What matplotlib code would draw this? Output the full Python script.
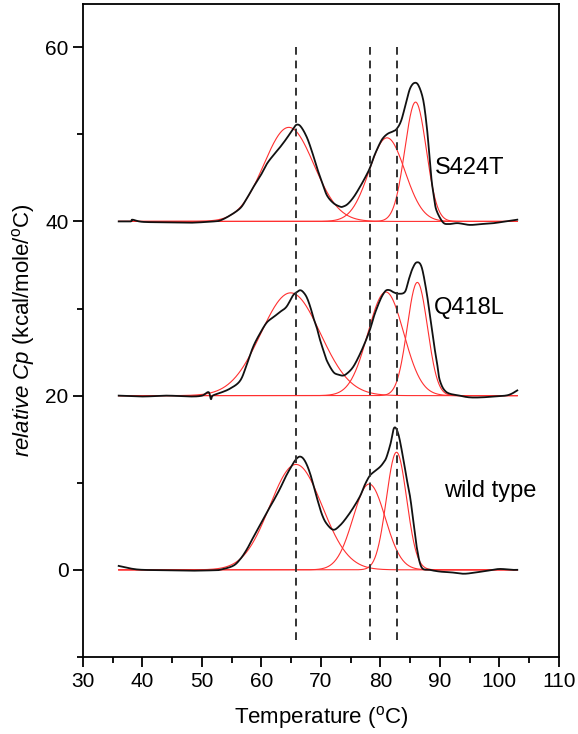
import numpy as np
import matplotlib
matplotlib.use("Agg")
import matplotlib.pyplot as plt
from matplotlib.ticker import MultipleLocator

plt.rcParams['font.family'] = ['Liberation Sans', 'DejaVu Sans']
plt.rcParams['mathtext.fontset'] = 'custom'
plt.rcParams['mathtext.rm'] = 'Liberation Sans'
plt.rcParams['mathtext.it'] = 'Liberation Sans:italic'

# ==== データ ====
baselines = [0, 20, 40]
names = ["wild type", "Q418L", "S424T"]
label_pos = [(98.4, 9.1), (95.0, 30.1), (95.0, 46.1)]

# 測定曲線 (T [°C], Cp)
t_wt = [36, 38, 40, 44, 48, 52, 53, 55.2, 56.4, 57.5, 58.6, 59.8, 60.9, 62, 63.1, 64, 64.8,
        65.7, 66.5, 67.3, 68.2, 69.3, 70.2, 71.0, 72.1, 73.2, 74.3, 75.5, 76.6, 77.4, 78.2,
        79.0, 79.9, 80.5, 81.0, 81.7, 82.3, 83.0, 83.8, 84.4, 85.0, 85.6, 86.1, 86.9, 88.3,
        90, 92, 94, 96, 98, 100, 102, 103]
cp_wt = [0.45, 0.15, 0.0, -0.05, -0.1, -0.05, 0.0, 0.45, 1.2, 2.3, 3.7, 5.2, 6.6, 7.9, 9.3,
         10.6, 11.6, 12.6, 13.0, 12.5, 11.0, 8.3, 6.3, 5.25, 4.6, 5.1, 6.0, 7.2, 8.5, 9.8, 10.8,
         11.3, 11.8, 12.3, 12.9, 14.5, 16.3, 15.6, 12.9, 10.5, 8.3, 5.2, 2.6, 0.3, 0.0,
         -0.2, -0.3, -0.45, -0.3, -0.1, 0.1, 0.0, 0.0]

t_q = [36, 40, 44, 48, 50, 51.1, 51.5, 51.8, 53, 54.7, 56.4, 57.5, 58.6, 59.8, 60.9, 62,
       63.1, 64.2, 65.3, 66.0, 66.5, 67.0, 67.6, 68.2, 68.7, 69.3, 69.8, 70.4, 71.0, 72.1,
       73.0, 73.7, 74.3, 75.2, 76.0, 77.1, 78.2, 79.0, 79.9, 80.5, 81.0, 81.6, 82.1, 83.0,
       84.1, 84.7, 85.4, 86.1, 86.9, 87.7, 88.3, 88.9, 89.5, 90.0, 91.1, 93.3, 95, 97, 99,
       101, 102, 103]
cp_q = [20.0, 19.9, 20.0, 19.9, 20.0, 20.4, 19.6, 20.0, 20.3, 20.8, 21.7, 23.5, 25.6, 27.2,
        28.4, 29.0, 29.6, 30.2, 31.5, 31.9, 32.1, 31.9, 31.3, 30.2, 29.0, 27.8, 26.5, 25.2,
        24.0, 22.7, 22.4, 22.3, 22.5, 23.1, 24.0, 25.6, 27.5, 29.3, 30.9, 31.7, 32.1, 32.1,
        31.9, 31.7, 31.9, 33.2, 34.6, 35.3, 34.8, 32.1, 29.3, 26.3, 23.8, 21.7, 20.4, 20.0,
        19.8, 19.8, 19.9, 20.0, 20.2, 20.6]

t_s = [36, 38, 38.3, 40, 44, 48, 52, 53, 54.5, 56.4, 57.5, 58.6, 59.8, 60.9, 62, 63.1, 64.2,
       65.3, 65.9, 66.6, 67.6, 68.5, 69.3, 70.2, 71.0, 72.1, 73.2, 73.7, 74.5, 75.5, 76.5,
       77.4, 78.2, 79.0, 80.0, 80.6, 81.3, 82.0, 82.7, 83.5, 84.4, 85.0, 85.7, 86.4, 87.2,
       87.8, 88.2, 88.6, 89.0, 89.4, 90.5, 91.5, 93, 95, 97, 99, 101, 103]
cp_s = [40.0, 40.0, 40.2, 39.95, 39.9, 39.85, 40.0, 40.1, 40.6, 41.5, 42.6, 43.9, 45.2, 46.6,
        47.6, 48.5, 49.5, 50.6, 51.1, 50.9, 49.7, 48.0, 46.2, 44.5, 43.0, 42.1, 41.7, 41.7,
        42.0, 42.8, 43.9, 45.0, 46.1, 47.6, 49.1, 49.7, 50.1, 50.3, 50.6, 51.6, 53.9, 55.3,
        55.9, 55.6, 53.9, 50.8, 47.8, 44.7, 42.8, 41.3, 39.9, 39.7, 39.8, 39.6, 39.7, 39.8,
        40.0, 40.2]

t_data = [t_wt, t_q, t_s]
cp_data = [cp_wt, cp_q, cp_s]

# フィット成分 (中心 Tm, 高さ, 幅)
tm_fit = [[65.8, 78.1, 82.7], [64.9, 80.9, 86.2], [64.6, 81.1, 85.9]]
h_fit = [[12.1, 9.85, 13.5], [11.8, 11.9, 13.0], [10.8, 9.6, 13.7]]
w_fit = [[4.4, 2.7, 1.7], [5.0, 3.0, 1.7], [4.2, 3.0, 1.8]]

# 破線（各転移温度）
tm_lines = [65.8, 78.2, 82.7]


def smooth_path(x, y, n=12):
    """読み取り点を Catmull-Rom で滑らかにつなぐ"""
    x = np.asarray(x, float)
    y = np.asarray(y, float)
    px = np.concatenate([[2 * x[0] - x[1]], x, [2 * x[-1] - x[-2]]])
    py = np.concatenate([[2 * y[0] - y[1]], y, [2 * y[-1] - y[-2]]])
    s = np.linspace(0, 1, n, endpoint=False)
    xs, ys = [], []
    for k in range(1, len(px) - 2):
        for arr, out in ((px, xs), (py, ys)):
            p0, p1, p2, p3 = arr[k - 1:k + 3]
            out.extend(0.5 * (2 * p1 + (-p0 + p2) * s
                              + (2 * p0 - 5 * p1 + 4 * p2 - p3) * s ** 2
                              + (-p0 + 3 * p1 - 3 * p2 + p3) * s ** 3))
    xs.append(x[-1])
    ys.append(y[-1])
    return xs, ys


# ==== 描画 ====
fig = plt.figure(figsize=(5.78, 7.34), dpi=100)
ax = fig.add_axes([0.1436, 0.105, 0.967 - 0.1436, 0.995 - 0.105])

tt = np.linspace(36, 103, 600)
for i in range(3):
    for tm, h, w in zip(tm_fit[i], h_fit[i], w_fit[i]):
        ax.plot(tt, baselines[i] + h * np.exp(-0.5 * ((tt - tm) / w) ** 2),
                color="#ff3030", linewidth=0.8, zorder=2)
    xs, ys = smooth_path(t_data[i], cp_data[i])
    ax.plot(xs, ys, color="#111111", linewidth=1.3, zorder=3)
    ax.text(label_pos[i][0], label_pos[i][1], names[i], fontsize=17,
            ha="center", va="center")

for x in tm_lines:
    ax.plot([x, x], [-8, 60], color="#333333", linewidth=1.4,
            dashes=(4, 3), zorder=4)

ax.set_xlim(30, 110)
ax.set_ylim(-10, 65)
ax.xaxis.set_major_locator(MultipleLocator(10))
ax.xaxis.set_minor_locator(MultipleLocator(5))
ax.yaxis.set_major_locator(MultipleLocator(20))
ax.yaxis.set_minor_locator(MultipleLocator(10))
ax.tick_params(which="both", direction="out", top=False, right=False,
               labelsize=15, width=1.3)
ax.tick_params(which="major", length=7)
ax.tick_params(which="minor", length=4)
for s in ax.spines.values():
    s.set_linewidth(1.3)

ax.set_xlabel(r"Temperature ($^{\rm o}$C)", fontsize=16, labelpad=10)
ax.set_ylabel(r"$relative\ Cp$ (kcal/mole/$^{\rm o}$C)", fontsize=16, labelpad=6)

fig.savefig("out.png", dpi=100)
